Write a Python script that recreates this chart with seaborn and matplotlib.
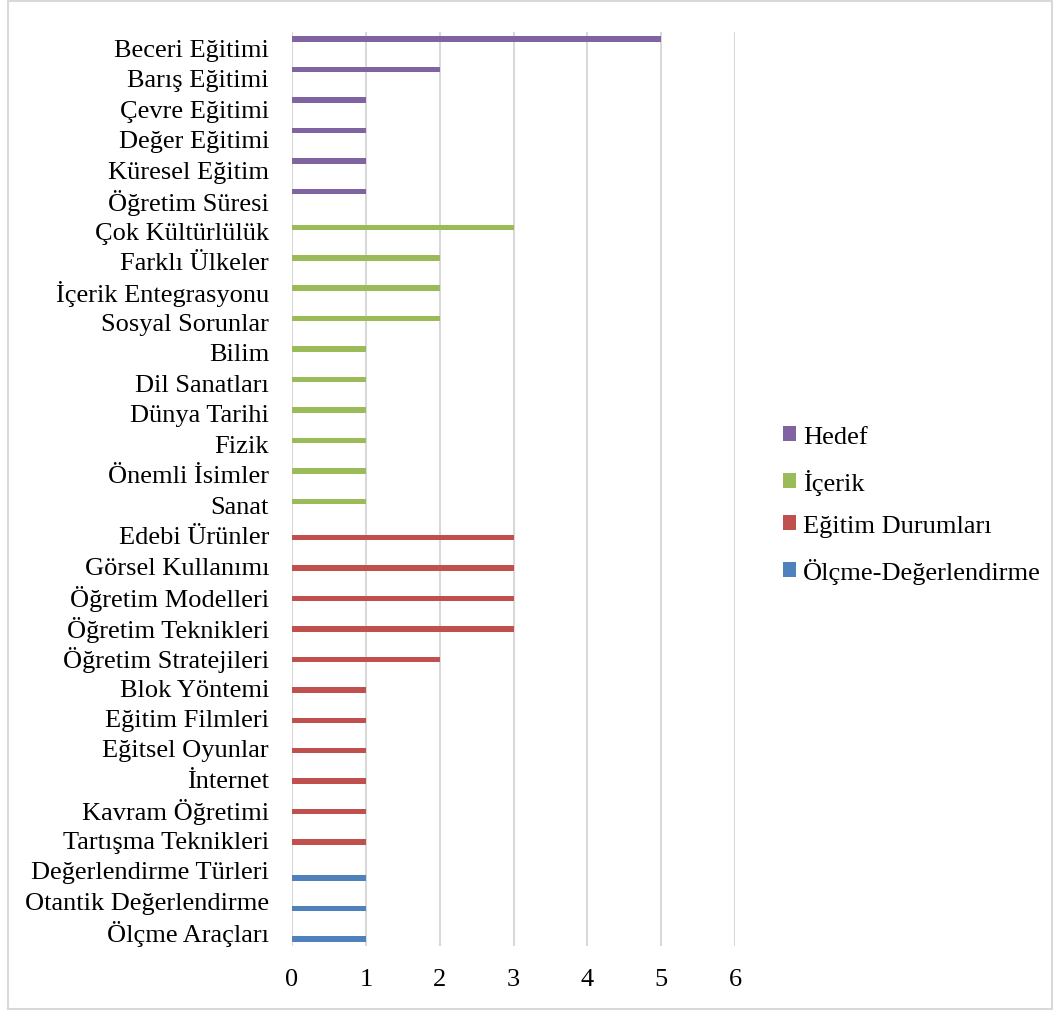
import matplotlib
matplotlib.use("Agg")
import matplotlib.pyplot as plt
import seaborn as sns
import pandas as pd
from matplotlib.patches import Rectangle

hedef_cats = ["Beceri Eğitimi", "Barış Eğitimi", "Çevre Eğitimi", "Değer Eğitimi",
              "Küresel Eğitim", "Öğretim Süresi"]
hedef_vals = [5, 2, 1, 1, 1, 1]

icerik_cats = ["Çok Kültürlülük", "Farklı Ülkeler", "İçerik Entegrasyonu", "Sosyal Sorunlar",
               "Bilim", "Dil Sanatları", "Dünya Tarihi", "Fizik", "Önemli İsimler", "Sanat"]
icerik_vals = [3, 2, 2, 2, 1, 1, 1, 1, 1, 1]

durum_cats = ["Edebi Ürünler", "Görsel Kullanımı", "Öğretim Modelleri", "Öğretim Teknikleri",
              "Öğretim Stratejileri", "Blok Yöntemi", "Eğitim Filmleri", "Eğitsel Oyunlar",
              "İnternet", "Kavram Öğretimi", "Tartışma Teknikleri"]
durum_vals = [3, 3, 3, 3, 2, 1, 1, 1, 1, 1, 1]

olcme_cats = ["Değerlendirme Türleri", "Otantik Değerlendirme", "Ölçme Araçları"]
olcme_vals = [1, 1, 1]

series_names = ["Hedef", "İçerik", "Eğitim Durumları", "Ölçme-Değerlendirme"]
series_colors = ["#8064A2", "#9BBB59", "#C0504D", "#4F81BD"]
x_ticks = [0, 1, 2, 3, 4, 5, 6]

rows = []
for name, cats, vals in zip(series_names,
                            [hedef_cats, icerik_cats, durum_cats, olcme_cats],
                            [hedef_vals, icerik_vals, durum_vals, olcme_vals]):
    for c, v in zip(cats, vals):
        rows.append({"Kategori": c, "Grup": name, "Değer": v})
df = pd.DataFrame(rows)
order = hedef_cats + icerik_cats + durum_cats + olcme_cats

sns.set_theme(style="white")
plt.rcParams["font.family"] = ["Liberation Serif", "DejaVu Serif"]
plt.rcParams["text.color"] = "black"

fig = plt.figure(figsize=(10.6, 10.12), dpi=100)
ax = fig.add_axes([292 / 1060, 1 - 947 / 1012, (735 - 292) / 1060, (947 - 33) / 1012])

sns.barplot(data=df, x="Değer", y="Kategori", hue="Grup", order=order,
            hue_order=series_names, palette=series_colors, saturation=1, orient="h",
            dodge=True, width=0.72, errorbar=None, linewidth=0, ax=ax, zorder=3)

ax.set_xlim(0, 6)
ax.set_ylim(len(order) - 0.5, -0.5)
ax.set_xticks(x_ticks)
ax.set_xticklabels([str(t) for t in x_ticks])
ax.set_xlabel("")
ax.set_ylabel("")
ax.grid(False)
for t in x_ticks:
    ax.axvline(t, color="#D9D9D9", linewidth=1.5, zorder=1)
for s in ax.spines.values():
    s.set_visible(False)
ax.tick_params(axis="both", length=0, labelsize=19, colors="black")
ax.tick_params(axis="y", pad=16.5)
ax.tick_params(axis="x", pad=16)

handles, labels = ax.get_legend_handles_labels()
if ax.legend_:
    ax.legend_.remove()
leg = fig.legend(handles, labels, loc="center left", bbox_to_anchor=(783 / 1060, 0.5),
                 frameon=False, fontsize=19, handlelength=0.5, handleheight=0.5,
                 handletextpad=0.25, labelspacing=0.78, borderpad=0, borderaxespad=0)
for txt in leg.get_texts():
    txt.set_color("black")

fig.patches.append(Rectangle((8 / 1060, 1 - 1010 / 1012), 1044 / 1060, 1008 / 1012,
                             transform=fig.transFigure, fill=False,
                             edgecolor="#D9D9D9", linewidth=1.5))

fig.savefig("out.png", dpi=100)
